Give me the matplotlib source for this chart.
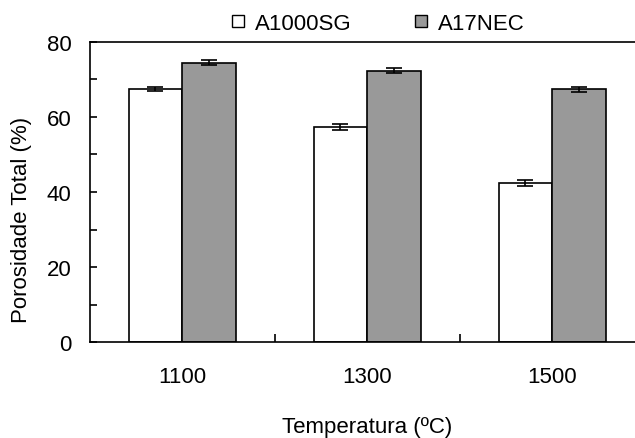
import matplotlib
matplotlib.use("Agg")
import matplotlib.pyplot as plt
from matplotlib.lines import Line2D
import numpy as np

# --- data ---
Temps = ["1100", "1300", "1500"]
A1000SG = [67.4, 57.2, 42.3]
A1000SG_err = [0.6, 0.8, 0.8]
A17NEC = [74.4, 72.3, 67.3]
A17NEC_err = [0.6, 0.6, 0.6]

FontSize = 16
GreyColour = "#999999"
BarWidth = 0.29

plt.rcParams['font.family'] = ['Liberation Sans', 'DejaVu Sans']

fig = plt.figure(figsize=(6.35, 4.39), dpi=100)
W, H = 635, 439
Left, Bottom, Top = 89.7, 343.3, 42.7
ax = fig.add_axes([Left / W, (H - Bottom) / H, (W - Left) / W, (Bottom - Top) / H])

x = np.arange(len(Temps))
err_kw = dict(ecolor="black", elinewidth=1.2, capsize=6, capthick=1.2)
ax.bar(x - BarWidth / 2, A1000SG, BarWidth, yerr=A1000SG_err, color="white",
       edgecolor="black", linewidth=1.2, error_kw=err_kw, zorder=2)
ax.bar(x + BarWidth / 2, A17NEC, BarWidth, yerr=A17NEC_err, color=GreyColour,
       edgecolor="black", linewidth=1.2, error_kw=err_kw, zorder=2)

ax.set_xlim(-0.5, -0.5 + (W - Left) / 185)
ax.set_ylim(0, 80)

ax.set_yticks([0, 20, 40, 60, 80])
ax.set_yticks([10, 30, 50, 70], minor=True)
ax.tick_params(axis="y", which="both", direction="in", length=5, width=1.2,
               labelsize=FontSize, pad=13)

ax.set_xticks(x)
ax.set_xticklabels(Temps)
ax.set_xticks([0.5, 1.5], minor=True)
ax.tick_params(axis="x", which="major", length=0, labelsize=FontSize, pad=17)
ax.tick_params(axis="x", which="minor", direction="in", length=6, width=1.2)

for s in ["left", "top", "bottom"]:
    ax.spines[s].set_linewidth(1.2)
ax.spines["right"].set_visible(False)

ax.set_ylabel("Porosidade Total (%)", fontsize=FontSize)
ax.yaxis.set_label_coords(32 / W, 0.5, transform=fig.transFigure)
ax.set_xlabel("Temperatura (ºC)", fontsize=FontSize)
ax.xaxis.set_label_coords((Left + 1.5 * 185) / W, 1 - 417 / H, transform=fig.transFigure)

handles = [
    Line2D([], [], marker="s", linestyle="none", markersize=8.4,
           markerfacecolor="white", markeredgecolor="black", markeredgewidth=1),
    Line2D([], [], marker="s", linestyle="none", markersize=8.4,
           markerfacecolor=GreyColour, markeredgecolor="black", markeredgewidth=1),
]
fig.legend(handles, ["A1000SG", "A17NEC"], loc="center left",
           bbox_to_anchor=(229 / W, 1 - 24 / H), ncol=2, frameon=False,
           fontsize=FontSize, handlelength=0.8, handletextpad=0.35,
           columnspacing=2.75, borderaxespad=0, borderpad=0)

fig.savefig("out.png", dpi=100)
